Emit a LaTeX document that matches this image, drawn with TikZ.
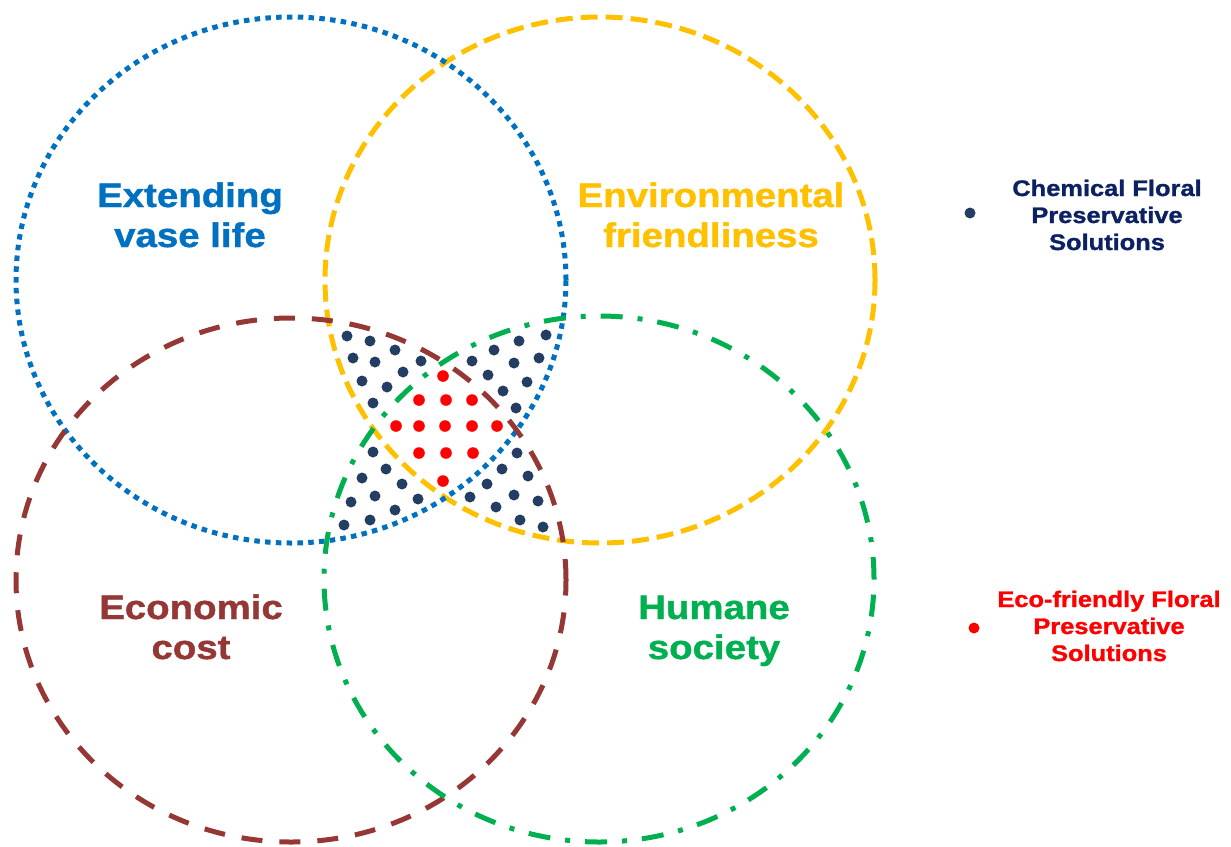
\documentclass[tikz,border=0pt]{standalone}
\usepackage{fontspec}
\newfontfamily\labfont{Liberation Sans}[FakeStretch=1.13,FakeBold=1.2]
\definecolor{cblue}{HTML}{0070C0}
\definecolor{cyellow}{HTML}{FFC000}
\definecolor{cbrown}{HTML}{953735}
\definecolor{cgreen}{HTML}{00B050}
\definecolor{cnavy}{HTML}{233D63}
\definecolor{cnavytext}{HTML}{0B2162}
\definecolor{cred}{HTML}{FF0000}
\tikzset{
  ring/.style={line width=5pt},
  biglab/.style={font=\labfont\bfseries\fontsize{34}{40}\selectfont, anchor=base, inner sep=0pt},
  leglab/.style={font=\labfont\bfseries\fontsize{22.5}{27}\selectfont, anchor=base, inner sep=0pt},
  legdot/.style={circle, inner sep=0pt, minimum size=11pt},
}
\begin{document}
\begin{tikzpicture}[x=1pt,y=-1pt]
\useasboundingbox (0,0) rectangle (1231,846);
% circles
\draw[ring, cyellow, dash pattern=on 17pt off 8pt] (600,280) ellipse [x radius=275pt, y radius=263pt];
\draw[ring, cblue, dash pattern=on 5.5pt off 5.3pt] (291,280) ellipse [x radius=275pt, y radius=263pt];
\draw[ring, cbrown, dash pattern=on 21pt off 17pt] (291,580) ellipse [x radius=275pt, y radius=262pt];
\draw[ring, cgreen, dash pattern=on 22pt off 15pt on 5pt off 15pt] (599,579) ellipse [x radius=275pt, y radius=263pt];
% dots
\foreach \p in {(347,336),(370,341),(395,350),(421,361),(353,358),(375,362),(403,372),(362,381),(387,387),(373,403),
  (546,335),(519,341),(494,350),(472,361),(539,358),(514,363),(488,375),(527,382),(503,391),(516,408),
  (373,452),(362,478),(386,469),(351,502),(375,496),(402,484),(344,525),(370,520),(395,510),(418,499),
  (517,453),(502,469),(528,476),(487,484),(514,495),(538,501),(470,497),(496,507),(520,520),(543,527)}
  \fill[cnavy] \p circle[radius=5.5pt];
\foreach \p in {(443,376),(419,400),(446,400),(472,400),(396,426),(419,426),(445,426),(472,426),(497,426),(419,453),(446,453),(473,453),(443,481)}
  \fill[cred] \p circle[radius=5.8pt];
% labels
\node[biglab, cblue] (ext1) at (190,207) {Extending};
\node[biglab, cblue] (ext2) at (190,247) {vase life};
\node[biglab, cyellow] (env1) at (711,207) {Environmental};
\node[biglab, cyellow] (env2) at (711,247) {friendliness};
\node[biglab, cbrown] (eco1) at (191,619) {Economic};
\node[biglab, cbrown] (eco2) at (191,659) {cost};
\node[biglab, cgreen] (hum1) at (714,619) {Humane};
\node[biglab, cgreen] (hum2) at (714,659) {society};
% legend
\node[legdot, fill=cnavy] (ldot1) at (970,213) {};
\node[leglab, cnavytext] (lc1) at (1107,196) {Chemical Floral};
\node[leglab, cnavytext] (lc2) at (1107,223) {Preservative};
\node[leglab, cnavytext] (lc3) at (1107,250) {Solutions};
\node[legdot, fill=cred] (ldot2) at (974,628) {};
\node[leglab, cred] (le1) at (1109,607) {Eco-friendly Floral};
\node[leglab, cred] (le2) at (1109,634) {Preservative};
\node[leglab, cred] (le3) at (1109,661) {Solutions};
\end{tikzpicture}
\end{document}
